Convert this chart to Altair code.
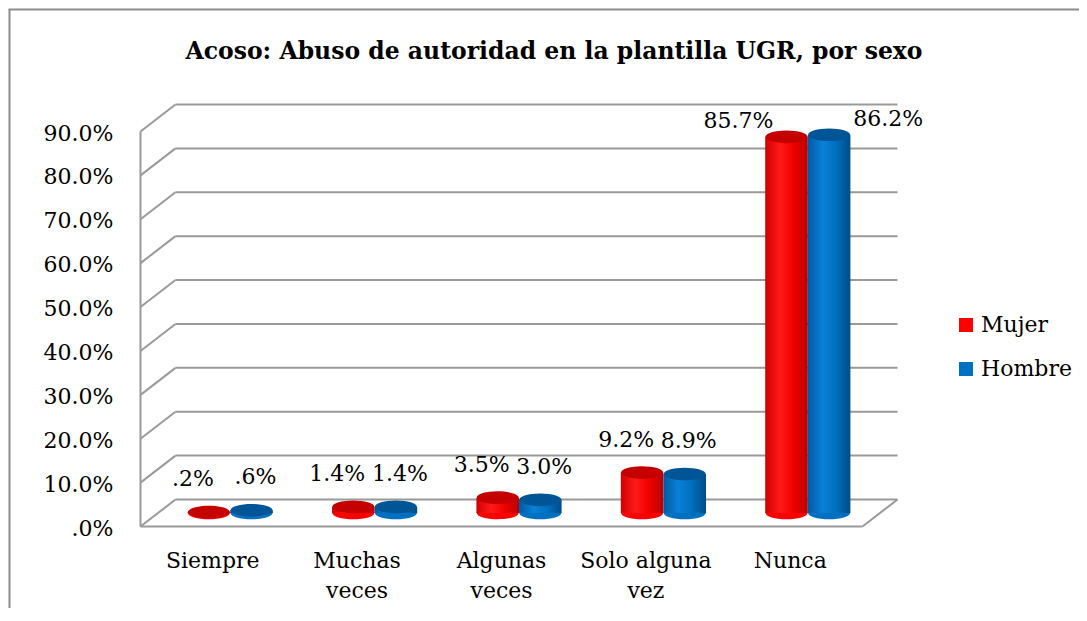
import altair as alt
import pandas as pd

# ---- data ----
categories = ["Siempre", "Muchas veces", "Algunas veces", "Solo alguna vez", "Nunca"]
series = ["Mujer", "Hombre"]
mujer = [0.2, 1.4, 3.5, 9.2, 85.7]
hombre = [0.6, 1.4, 3.0, 8.9, 86.2]
y_ticks = [0, 10, 20, 30, 40, 50, 60, 70, 80, 90]

rows = []
for c, m, h in zip(categories, mujer, hombre):
    rows.append({"cat": c, "sexo": "Mujer", "v": m})
    rows.append({"cat": c, "sexo": "Hombre", "v": h})
df = pd.DataFrame(rows)
df["label"] = df["v"].map(lambda v: f"{v:.1f}".lstrip("0") + "%")
ticks_df = pd.DataFrame({"t": y_ticks})

# ---- style ----
FONT = "DejaVu Serif"
W, H = 722, 395
DX, DY = 17.5, 13.5           # half of the pseudo-3D depth
GRID = "#9a9a9a"
RED_CAP, BLUE_CAP = "#c40000", "#005596"
ELL = "M-1,0A1,0.3,0,1,1,1,0A1,0.3,0,1,1,-1,0Z"
ELL_SIZE = 1764

red_grad = alt.LinearGradient(gradient="linear", x1=0, x2=1, y1=0, y2=0,
                              stops=[alt.GradientStop(offset=0, color="#d00000"),
                                     alt.GradientStop(offset=0.35, color="#ff1a1a"),
                                     alt.GradientStop(offset=0.65, color="#f20000"),
                                     alt.GradientStop(offset=1, color="#b80000")])
blue_grad = alt.LinearGradient(gradient="linear", x1=0, x2=1, y1=0, y2=0,
                               stops=[alt.GradientStop(offset=0, color="#005aa3"),
                                      alt.GradientStop(offset=0.35, color="#0a80d8"),
                                      alt.GradientStop(offset=0.65, color="#0070c0"),
                                      alt.GradientStop(offset=1, color="#004c86")])

x_axis = alt.Axis(title=None, domain=False, ticks=False, grid=False, labelFont=FONT, labelFontSize=22,
                  labelColor="#000000", labelAngle=0, labelPadding=37, labelOffset=-DX,
                  labelLineHeight=30,
                  labelExpr="datum.label == 'Solo alguna vez' ? ['Solo alguna', 'vez'] : split(datum.label, ' ')")
y_axis = alt.Axis(title=None, domain=False, ticks=False, grid=False, values=y_ticks,
                  labelFont=FONT, labelFontSize=22, labelColor="#000000", labelPadding=45,
                  labelOffset=15,
                  labelExpr="datum.value == 0 ? '.0%' : format(datum.value, '.1f') + '%'")

x_enc = alt.X("cat:N", sort=categories, axis=x_axis,
              scale=alt.Scale(paddingInner=0.41, paddingOuter=0.205))
xo_enc = alt.XOffset("sexo:N", sort=series, scale=alt.Scale(domain=series, paddingInner=0, paddingOuter=0))
y_scale = alt.Scale(domain=[0, 90], nice=False, zero=True)
y_enc = alt.Y("v:Q", scale=y_scale, axis=y_axis)

base = alt.Chart(df)
tick_base = alt.Chart(ticks_df)

# pseudo-3D walls
left_edge = tick_base.transform_aggregate(lo="min(t)", hi="max(t)").mark_rule(
    color=GRID, strokeWidth=2, yOffset=DY, y2Offset=DY).encode(
    x=alt.value(-DX), y=alt.Y("hi:Q", scale=y_scale, axis=y_axis), y2="lo:Q")
slants = tick_base.mark_rule(color=GRID, strokeWidth=2, yOffset=DY, y2Offset=-DY).encode(
    x=alt.value(-DX), x2=alt.value(DX), y=alt.Y("t:Q", scale=y_scale, axis=y_axis), y2="t:Q")
back = tick_base.mark_rule(color=GRID, strokeWidth=2, yOffset=-DY, y2Offset=-DY).encode(
    x=alt.value(DX), x2=alt.value(W + DX), y=alt.Y("t:Q", scale=y_scale, axis=y_axis), y2="t:Q")
floor_df = tick_base.transform_aggregate(lo="min(t)")
floor_front = floor_df.mark_rule(color=GRID, strokeWidth=2, yOffset=DY, y2Offset=DY).encode(
    x=alt.value(-DX), x2=alt.value(W - DX), y=alt.Y("lo:Q", scale=y_scale, axis=y_axis), y2="lo:Q")
floor_right = floor_df.mark_rule(color=GRID, strokeWidth=2, yOffset=DY, y2Offset=-DY).encode(
    x=alt.value(W - DX), x2=alt.value(W + DX), y=alt.Y("lo:Q", scale=y_scale, axis=y_axis), y2="lo:Q")

# outer frame of the chart object (only its left and top edges are on the page)
frame_left = floor_df.mark_rule(color="#8c8c8c", strokeWidth=2).encode(
    x=alt.value(-148.5), y=alt.value(-108.5), y2=alt.value(900))
frame_top = floor_df.mark_rule(color="#8c8c8c", strokeWidth=2).encode(
    x=alt.value(-149.5), x2=alt.value(1200), y=alt.value(-108.5))

# bottom ellipses (also provide the legend)
bottoms = base.mark_point(filled=True, shape=ELL, size=ELL_SIZE, opacity=1, strokeWidth=0).encode(
    x=x_enc, xOffset=xo_enc, y=alt.Y("zero:Q", scale=y_scale, axis=y_axis),
    color=alt.Color("sexo:N", sort=series,
                    scale=alt.Scale(domain=series, range=["#ff0000", "#0070c0"]),
                    legend=alt.Legend(title=None, orient="none", legendX=797, legendY=196,
                                      symbolType="square", symbolSize=196, symbolStrokeWidth=0,
                                      labelFont=FONT, labelFontSize=22, labelColor="#000000",
                                      rowPadding=22, labelOffset=4))
).transform_calculate(zero="0")

layers = [frame_left, frame_top, left_edge, slants, back, floor_front, floor_right, bottoms]
for s, grad, cap in [("Mujer", red_grad, RED_CAP), ("Hombre", blue_grad, BLUE_CAP)]:
    sb = base.transform_filter(alt.datum.sexo == s)
    bar = sb.mark_bar(color=grad).encode(x=x_enc, xOffset=xo_enc, y=y_enc, y2=alt.datum(0))
    top = sb.mark_point(filled=True, shape=ELL, size=ELL_SIZE, opacity=1, strokeWidth=0,
                        color=cap).encode(x=x_enc, xOffset=xo_enc, y=y_enc)
    layers += [bar, top]

# data labels (the tall bars carry their labels beside the top, as in the reference)
lab_small = base.transform_filter(alt.datum.v < 50)
lab_big = base.transform_filter(alt.datum.v >= 50)
for s, dx_small, dx_big in [("Mujer", -16, -48), ("Hombre", 4, 59)]:
    layers.append(lab_small.transform_filter(alt.datum.sexo == s).mark_text(
        font=FONT, fontSize=22, color="#000000", baseline="alphabetic", dx=dx_small, dy=-26).encode(
        x=x_enc, xOffset=xo_enc, y=y_enc, text="label:N"))
    layers.append(lab_big.transform_filter(alt.datum.sexo == s).mark_text(
        font=FONT, fontSize=22, color="#000000", baseline="alphabetic", dx=dx_big, dy=-9).encode(
        x=x_enc, xOffset=xo_enc, y=y_enc, text="label:N"))

chart = alt.layer(*layers).properties(
    width=W, height=H,
    background="white",
    title=alt.TitleParams(text="Acoso: Abuso de autoridad en la plantilla UGR, por sexo",
                          font=FONT, fontSize=23.5, fontWeight="bold", color="#000000",
                          anchor="middle", frame="group", dx=35, offset=-55),
    autosize=alt.AutoSizeParams(type="none"),
    padding={"left": 150, "top": 110, "right": 199, "bottom": 95},
).configure_view(stroke="transparent", strokeWidth=0).configure_axis(grid=False)

chart.save("out.html", embed_options={"renderer": "svg", "actions": False})
